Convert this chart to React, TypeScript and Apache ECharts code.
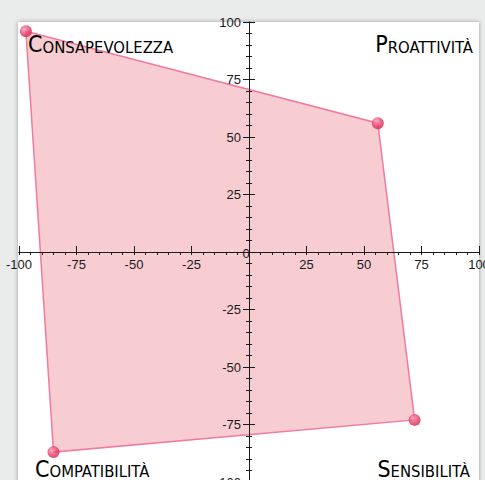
import React, { useEffect, useRef } from 'react';
import * as echarts from 'echarts';

// ---- data ----
const quadrantNames = ['Consapevolezza', 'Proattività', 'Sensibilità', 'Compatibilità'];
const xValues = [-97, 56, 72, -85];
const yValues = [96, 56, -73, -87];
const axisMin = -100;
const axisMax = 100;
const axisInterval = 25;
const originLabel = '0';

const NARROW = "'Liberation Sans Narrow', 'DejaVu Sans Condensed', 'Arial Narrow', sans-serif";
const SANS = "'Liberation Sans', Arial, sans-serif";
const INK = '#1a1a1a';

const GRID = { left: 19, top: 22, size: 460 };
const HALF = GRID.size / 2;

function smallCaps(name: string) {
  const up = name.toUpperCase();
  return `{big|${up.charAt(0)}}{small|${up.slice(1)}}`;
}

const labelRich = {
  big: { fontFamily: NARROW, fontSize: 23, lineHeight: 23, color: INK, verticalAlign: 'bottom' },
  small: { fontFamily: NARROW, fontSize: 16.5, lineHeight: 16.5, color: INK, verticalAlign: 'bottom' },
};

// label anchor placement (quadrant corners)
const labelPlaces = [
  { x: 28, y: 55.5, align: 'left' },
  { x: 473, y: 55.5, align: 'right' },
  { x: 470, y: 480, align: 'right' },
  { x: 35, y: 480, align: 'left' },
];

export default function App() {
  const ref = useRef<HTMLDivElement>(null);

  useEffect(() => {
    if (!ref.current) return;
    const chart = echarts.init(ref.current, null, { renderer: 'svg' });
    const points = xValues.map((x, i) => [x, yValues[i]]);

    const lineStyle = { color: INK, width: 1 };
    const axisBase: any = {
      type: 'value',
      min: axisMin,
      max: axisMax,
      interval: axisInterval,
      splitLine: { show: false },
      axisLine: { show: true, onZero: false, lineStyle },
      offset: -HALF,
      z: 5,
    };
    const labelBase = {
      fontFamily: SANS,
      fontSize: 13,
      color: INK,
      formatter: (v: number) => (v === 0 ? '' : String(v)),
    };

    chart.setOption({
      animation: false,
      backgroundColor: '#eaebeb',
      grid: {
        left: GRID.left,
        top: GRID.top,
        width: GRID.size,
        height: GRID.size,
        containLabel: false,
        outerBoundsMode: 'none',
      },
      xAxis: [
        {
          ...axisBase,
          position: 'bottom',
          axisTick: { show: true, length: 3, lineStyle },
          minorTick: { show: true, splitNumber: 5, length: 3, lineStyle },
          axisLabel: { ...labelBase, margin: 6 },
        },
        {
          ...axisBase,
          position: 'top',
          axisTick: { show: true, length: 6, lineStyle },
          minorTick: { show: false },
          axisLabel: { show: false },
        },
      ],
      yAxis: [
        {
          ...axisBase,
          position: 'left',
          axisTick: { show: true, length: 6, lineStyle },
          minorTick: { show: true, splitNumber: 5, length: 3, lineStyle },
          axisLabel: { ...labelBase, margin: 8 },
        },
        {
          ...axisBase,
          position: 'right',
          axisTick: { show: true, length: 6, lineStyle },
          minorTick: { show: true, splitNumber: 5, length: 3, lineStyle },
          axisLabel: { show: false },
        },
      ],
      series: [
        {
          type: 'custom',
          xAxisIndex: 0,
          yAxisIndex: 0,
          z: 2,
          data: points,
          renderItem: (params: any, api: any) => {
            if (params.dataIndex !== 0) return null;
            const pts = points.map((p) => api.coord(p));
            return {
              type: 'polygon',
              shape: { points: pts },
              style: { fill: '#f7cdd1', stroke: '#f17aa0', lineWidth: 1.5 },
            };
          },
        },
        {
          type: 'scatter',
          xAxisIndex: 0,
          yAxisIndex: 0,
          z: 10,
          data: points,
          symbol: 'circle',
          symbolSize: 12,
          itemStyle: {
            color: new echarts.graphic.RadialGradient(0.38, 0.35, 0.7, [
              { offset: 0, color: '#f7a0b8' },
              { offset: 0.55, color: '#e8406c' },
              { offset: 1, color: '#d3204f' },
            ]),
          },
        },
      ],
      graphic: [
        {
          type: 'rect',
          z: -10,
          shape: { x: 18, y: 22, width: 461, height: 480 },
          style: { fill: '#ffffff', shadowBlur: 4, shadowColor: 'rgba(0,0,0,0.35)' },
        },
        ...quadrantNames.map((name, i) => ({
          type: 'text',
          z: 20,
          x: labelPlaces[i].x,
          y: labelPlaces[i].y,
          style: {
            text: smallCaps(name),
            rich: labelRich,
            align: labelPlaces[i].align,
            verticalAlign: 'bottom',
          },
        })),
        {
          type: 'text',
          z: 20,
          x: 246,
          y: 253,
          style: {
            text: originLabel,
            fontFamily: SANS,
            fontSize: 13,
            fill: INK,
            align: 'center',
            verticalAlign: 'middle',
          },
        },
      ],
    });

    return () => chart.dispose();
  }, []);

  return (
    <div
      ref={ref}
      style={{ position: 'fixed', left: 0, top: 0, width: 485, height: 480 }}
    />
  );
}
